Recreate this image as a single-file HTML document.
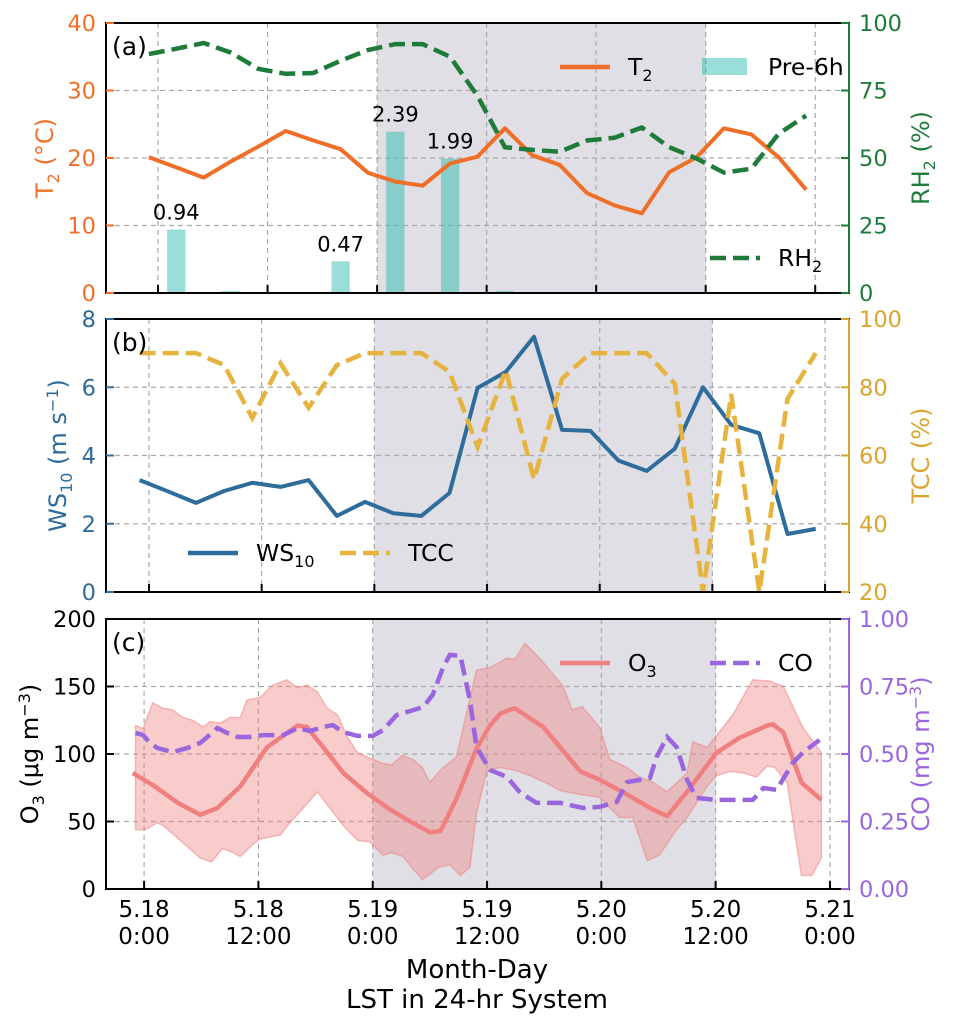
<!DOCTYPE html>
<html><head><meta charset="utf-8"><style>
html,body{margin:0;padding:0;background:#fff;}
svg{display:block;font-family:"DejaVu Sans","Liberation Sans",sans-serif;}
</style></head><body>
<svg id="chart" width="957" height="1029" viewBox="0 0 957 1029"></svg>
<script>
// ---- Panel (a) data ----
const hoursA = [-1,2,5,8,11,14,17,20,23,26,29,32,35,38,41,44,47,50,53,56,59,62,65,68,71];
const t2Values = [20.1,18.6,17.1,19.5,21.7,24.0,22.6,21.3,17.8,16.5,15.9,19.2,20.2,24.4,20.4,19.0,14.8,13.0,11.8,17.9,20.1,24.4,23.5,20.1,15.3];
const rh2Values = [88.5,90.5,92.6,89,83,81.2,81.5,86,90,92.2,92.2,87.5,73,54,53,52.3,56.5,57.5,61.3,54,49.8,44.6,46,59,65.7];
const preHours = [2,8,20,26,32,38];
const preValues = [0.94,0.03,0.47,2.39,1.99,0.03];
const preLabels = ["0.94","","0.47","2.39","1.99",""];
// ---- Panel (b) data ----
const hoursB = hoursA;
const ws10Values = [3.28,2.95,2.61,2.96,3.2,3.08,3.28,2.23,2.64,2.31,2.23,2.9,5.98,6.45,7.48,4.75,4.72,3.85,3.55,4.2,6.0,4.9,4.65,1.7,1.85];
const tccValues = [90,90,90,86.5,71,87,74,86.5,90,90,90,84.5,62.5,85,53,82.5,90,90,90,81,20,78,20,76.6,90];
// ---- Panel (c) data ----
const o3Hours = [-1.2,0.9,3.5,5.9,7.7,10.1,12.9,16.1,17.1,18.8,20.9,23.4,25.8,28.2,30,31.1,32.8,34.9,36.3,37.4,38.9,41.9,45.8,47.8,50.2,53.4,54.9,57,60.1,62.5,65.4,66,67.1,69,71.1];
const o3Values = [86,77,64,55,60,76,105,121,120,105,86,71,59,49,42,43,67,104,121,130,134,120,87,81,72,59,54,72,101,112,121,122,116,79,66];
const upHours = [-0.9,-0.1,0.9,1.9,2.9,4.1,5.1,6.2,6.9,8.0,9.0,10.1,10.8,12.2,13.5,15.0,16.1,17.1,18.2,19.2,20.3,21.3,22.4,24.0,25.1,26.0,27.1,28.2,29.2,30.0,31.1,32.8,34.9,36.3,38.1,38.9,40.0,41.9,44.0,44.9,46.0,47.8,48.9,50.7,52.0,53.4,54.9,57.0,57.6,59.1,61.8,63.9,65.7,67.1,69.2,71.1];
const upValues = [121,119,138,134,133,127,125,120,124,123,127,127,140,142,151,155,149,151,146,134,129,113,101,96,93,92,99,96,90,79,88,98,162,164,171,170,182,168,150,133,135,120,96,90,83,79,72,86,109,105,129,155,154,150,119,101];
const lowHours = [-0.9,0.1,1.4,2.0,3.8,5.9,7.1,8.2,9.3,10.1,11.4,12.2,14.3,15.3,16.7,18.2,19.5,20.9,22.4,23.7,25.1,26.0,27.2,28.1,29.2,30.0,30.9,32.1,33.2,34.2,34.9,36.0,37.4,38.9,40.5,42.1,43.7,45.8,47.8,49.9,51.3,52.8,54.1,55.9,57.0,59.1,60.1,61.5,62.9,64.3,65.4,66.2,67.5,69.0,70.1,71.1];
const lowValues = [44,44,49,47,36,23,20,30,27,24,33,37,40,49,60,72,60,47,36,35,25,27,24,16,7,11,16,18,10,16,56,88,90,88,84,79,73,70,68,53,53,21,25,44,53,76,84,87,86,83,91,90,79,10,10,23];
const coHours = [-0.9,-0.1,0.6,1.4,3.0,4.5,5.9,7.7,8.7,9.8,11.1,12.5,14.6,16.1,17.4,18.8,19.8,20.9,22.4,24.0,25.1,26.5,27.9,29.3,30.3,31.4,32.1,33.2,34.2,34.9,36.3,38.1,39.5,41.2,43.7,46.1,47.8,49.6,50.7,53.1,53.8,54.9,55.9,57.0,58.0,60.1,63.9,65.0,66.4,68.1,69.2,70.9];
const coValues = [.578,.570,.541,.522,.507,.522,.541,.596,.578,.563,.563,.570,.570,.596,.585,.600,.607,.581,.567,.567,.589,.644,.659,.674,.719,.822,.867,.863,.700,.526,.441,.415,.356,.319,.319,.300,.304,.322,.396,.411,.489,.563,.526,.404,.337,.330,.330,.374,.367,.467,.507,.552];
// ---- axis ticks ----
const xTickHours = [0,12,24,36,48,60,72];
const xTickLine1 = ["5.18","5.18","5.19","5.19","5.20","5.20","5.21"];
const xTickLine2 = ["0:00","12:00","0:00","12:00","0:00","12:00","0:00"];
const t2Ticks = [0,10,20,30,40];
const rhTicks = [0,25,50,75,100];
const wsTicks = [0,2,4,6,8];
const tccTicks = [20,40,60,80,100];
const o3Ticks = [0,50,100,150,200];
const coTicks = [0,0.25,0.5,0.75,1.0];
const coTickLabels = ["0.00","0.25","0.50","0.75","1.00"];

const NS="http://www.w3.org/2000/svg";
const svg=document.getElementById('chart');
function el(tag,attrs,parent){const e=document.createElementNS(NS,tag);for(const k in attrs)e.setAttribute(k,attrs[k]);(parent||svg).appendChild(e);return e;}
function lin(d0,d1,r0,r1){return v=>r0+(v-d0)/(d1-d0)*(r1-r0);}
function pathD(xs,ys,fx,fy){return xs.map((h,i)=>(i?'L':'M')+fx(h).toFixed(1)+','+fy(ys[i]).toFixed(1)).join('');}

const L=106,R=849;
const panels=[
 {id:'a',top:23,bot:293,x:lin(-5.7,75.7,L,R),shade:[24,60],lt:t2Ticks,ld:[0,40],lc:'#ef6f28',rt:rhTicks,rd:[0,100],rc:'#1e7b3a',rl:rhTicks.map(String),tx:45},
 {id:'b',top:319,bot:592,x:lin(-4.58,74.55,L,R),shade:[24,60],lt:wsTicks,ld:[0,8],lc:'#2e6c9c',rt:tccTicks,rd:[20,100],rc:'#d9a52e',rl:tccTicks.map(String),tx:58},
 {id:'c',top:619,bot:889,x:lin(-4,74,L,R),shade:[24,60],lt:o3Ticks,ld:[0,200],lc:'#000',rt:coTicks,rd:[0,1],rc:'#9966dd',rl:coTickLabels,tx:30}
];
panels.forEach(p=>{
 p.yl=lin(p.ld[0],p.ld[1],p.bot,p.top);
 p.yr=lin(p.rd[0],p.rd[1],p.bot,p.top);
 const g=el('g',{});
 
 
 p.g=g;
 const sh=el('rect',{x:p.x(p.shade[0]),y:p.top,width:p.x(p.shade[1])-p.x(p.shade[0]),height:p.bot-p.top,fill:'#dfdfe5'},g);
 
 
 xTickHours.forEach(h=>{
  const gl=el('line',{x1:p.x(h),x2:p.x(h),y1:p.top,y2:p.bot,stroke:'#aaa','stroke-width':1.2,'stroke-dasharray':'5,4'},g);
  
  
 });
 p.lt.forEach((v,i)=>{
  if(i>0&&i<p.lt.length-1){const gl=el('line',{x1:L,x2:R,y1:p.yl(v),y2:p.yl(v),stroke:'#aaa','stroke-width':1.2,'stroke-dasharray':'5,4'},g);
  
  }
 });
});
function finishPanel(p,letter,leftTitle,rightTitle){
 const g=p.g;
 el('rect',{x:L,y:p.top,width:R-L,height:p.bot-p.top,fill:'none',stroke:'#000','stroke-width':2},g);
 el('line',{x1:R,x2:R,y1:p.top,y2:p.bot,stroke:p.rc,'stroke-width':2},g);
 xTickHours.forEach(h=>{el('line',{x1:p.x(h),x2:p.x(h),y1:p.bot,y2:p.bot-8,stroke:'#000','stroke-width':2},g);});
 p.lt.forEach(v=>{
  el('line',{x1:L,x2:L+8,y1:p.yl(v),y2:p.yl(v),stroke:p.lc,'stroke-width':2},g);
  const t=el('text',{x:96,y:p.yl(v)+8,'text-anchor':'end','font-size':22.5,fill:p.lc},g);t.textContent=v;
  
  
 });
 p.rt.forEach((v,i)=>{
  el('line',{x1:R-8,x2:R,y1:p.yr(v),y2:p.yr(v),stroke:p.rc,'stroke-width':2},g);
  const t=el('text',{x:859,y:p.yr(v)+8,'font-size':22.5,fill:p.rc},g);t.textContent=p.rl[i];
  
  
 });
 const pl=el('text',{x:112,y:p.top+32,'font-size':25,fill:'#000'},g);pl.textContent=letter;
 
 
 const cy=(p.top+p.bot)/2;
 const lt=el('text',{x:0,y:0,'text-anchor':'middle','font-size':24,fill:p.lc,transform:`translate(${p.tx+8},${cy}) rotate(-90)`},g);lt.innerHTML=leftTitle;
 
 
 const rtt=el('text',{x:0,y:0,'text-anchor':'middle','font-size':24,fill:p.rc,transform:`translate(929,${cy}) rotate(-90)`},g);rtt.innerHTML=rightTitle;
 
 
}
function legendLine(g,x,y,color,dash,label,name){
 const ln=el('line',{x1:x,x2:x+50,y1:y,y2:y,stroke:color,'stroke-width':4.5,'stroke-dasharray':dash||'none'},g);
 
 
 const t=el('text',{x:x+68,y:y+8,'font-size':23.5,fill:'#000'},g);t.innerHTML=label;
 
 
}
const sub=s=>`<tspan font-size="16" dy="6">${s}</tspan>`;

// Panel a
{const p=panels[0],g=p.g;
 const bw=p.x(2)-p.x(0);
 preHours.forEach((h,i)=>{
  const yT=p.yl(preValues[i]*10);
  const b=el('rect',{x:p.x(h)-bw/2,y:yT,width:bw,height:p.bot-yT,fill:'rgba(42,186,174,0.48)'},g);
  
  
  if(preLabels[i]){const t=el('text',{x:p.x(h),y:yT-10,'text-anchor':'middle','font-size':21,fill:'#000'},g);t.textContent=preLabels[i];
  
  }
 });
 const t2=el('path',{d:pathD(hoursA,t2Values,p.x,p.yl),fill:'none',stroke:'#ef6f28','stroke-width':4,'stroke-linejoin':'round'},g);
 
 
 const rh=el('path',{d:pathD(hoursA,rh2Values,p.x,p.yr),fill:'none',stroke:'#1e7b3a','stroke-width':4.5,'stroke-dasharray':'16,7'},g);
 
 
 legendLine(g,560,67,'#ef6f28',null,'T'+sub('2'),'t2');
 const pr=el('rect',{x:702,y:58,width:45,height:17,fill:'rgba(42,186,174,0.48)'},g);
 
 
 const pt=el('text',{x:768,y:75,'font-size':23.5,fill:'#000'},g);pt.textContent='Pre-6h';
 
 
 legendLine(g,710,258,'#1e7b3a','16,7','RH'+sub('2'),'rh2');
 finishPanel(p,'(a)','T'+sub('2')+'<tspan dy="-6"> (°C)</tspan>','RH'+sub('2')+'<tspan dy="-6"> (%)</tspan>');
}
// Panel b
{const p=panels[1],g=p.g;
 const ws=el('path',{d:pathD(hoursB,ws10Values,p.x,p.yl),fill:'none',stroke:'#2e6c9c','stroke-width':4,'stroke-linejoin':'round'},g);
 
 
 const tc=el('path',{d:pathD(hoursB,tccValues,p.x,p.yr),fill:'none',stroke:'#e6b33e','stroke-width':4.5,'stroke-dasharray':'16,7'},g);
 
 
 legendLine(g,188,553,'#2e6c9c',null,'WS'+sub('10'),'ws10');
 legendLine(g,340,553,'#e6b33e','16,7','TCC','tcc');
 finishPanel(p,'(b)','WS'+sub('10')+'<tspan dy="-6"> (m  s</tspan><tspan font-size="16" dy="-8">−1</tspan><tspan dy="8">)</tspan>','TCC (%)');
}
// Panel c
{const p=panels[2],g=p.g;
 let d=upHours.map((h,i)=>(i?'L':'M')+p.x(h).toFixed(1)+','+p.yl(upValues[i]).toFixed(1)).join('');
 for(let i=lowHours.length-1;i>=0;i--) d+='L'+p.x(lowHours[i]).toFixed(1)+','+p.yl(lowValues[i]).toFixed(1);
 d+='Z';
 const band=el('path',{d:d,fill:'rgba(240,128,128,0.4)',stroke:'rgba(240,128,128,0.5)','stroke-width':1.5},g);
 
 
 const o3=el('path',{d:pathD(o3Hours,o3Values,p.x,p.yl),fill:'none',stroke:'#f08080','stroke-width':4.5,'stroke-linejoin':'round'},g);
 
 
 const co=el('path',{d:pathD(coHours,coValues,p.x,p.yr),fill:'none',stroke:'#9966dd','stroke-width':4.5,'stroke-dasharray':'16,7'},g);
 
 
 legendLine(g,560,663,'#f08080',null,'O'+sub('3'),'o3');
 legendLine(g,710,663,'#9966dd','16,7','CO','co');
 finishPanel(p,'(c)','O'+sub('3')+'<tspan dy="-6"> (μg  m</tspan><tspan font-size="16" dy="-8">−3</tspan><tspan dy="8">)</tspan>','CO (mg  m<tspan font-size="16" dy="-8">−3</tspan><tspan dy="8">)</tspan>');
 xTickHours.forEach((h,i)=>{
  const t1=el('text',{x:p.x(h),y:917,'text-anchor':'middle','font-size':23,fill:'#000'});t1.textContent=xTickLine1[i];
  
  
  const t2=el('text',{x:p.x(h),y:944,'text-anchor':'middle','font-size':23,fill:'#000'});t2.textContent=xTickLine2[i];
  
  
 });
}
const xt1=el('text',{x:477,y:978,'text-anchor':'middle','font-size':26,fill:'#000'});xt1.textContent='Month-Day';


const xt2=el('text',{x:477,y:1008,'text-anchor':'middle','font-size':26,fill:'#000'});xt2.textContent='LST in 24-hr System';


</script>
</body></html>
